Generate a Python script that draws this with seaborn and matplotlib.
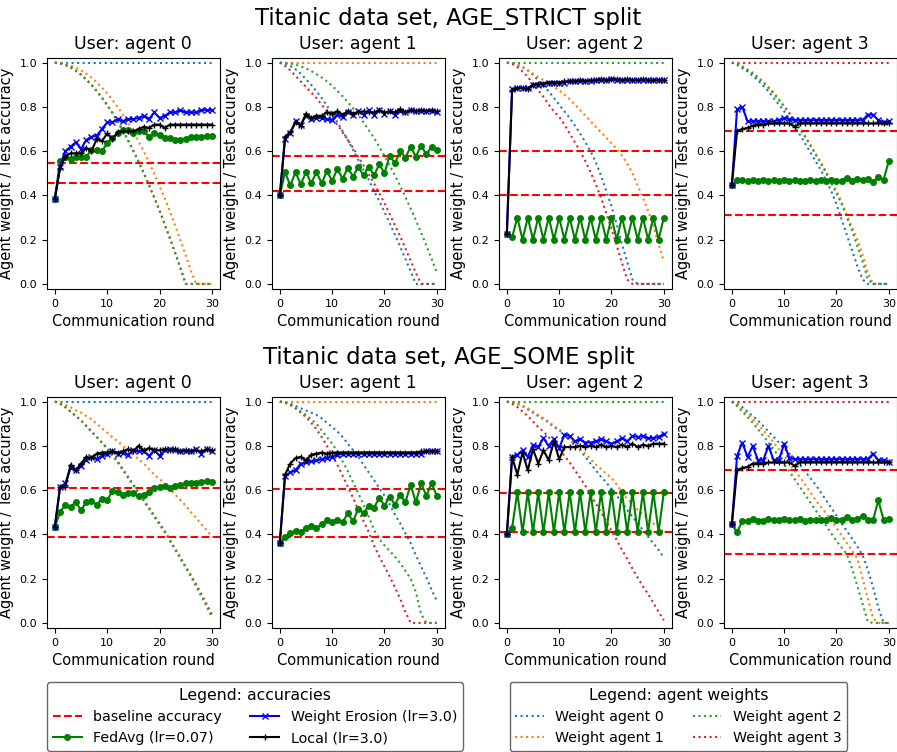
import matplotlib
matplotlib.use("Agg")
import matplotlib.pyplot as plt
import seaborn as sns

# Titanic federated learning results, rounds 0..30
rounds = list(range(31))
agents = [0, 1, 2, 3]
split_names = ["AGE_STRICT", "AGE_SOME"]

full_weight = [1.0, 1.0, 1.0, 1.0, 1.0, 1.0, 1.0, 1.0, 1.0, 1.0, 1.0, 1.0, 1.0, 1.0, 1.0, 1.0,
               1.0, 1.0, 1.0, 1.0, 1.0, 1.0, 1.0, 1.0, 1.0, 1.0, 1.0, 1.0, 1.0, 1.0, 1.0]

# ---- AGE_STRICT, user agent 0
s0_base = [0.545, 0.455]
s0_w1 = [1.0, 0.999, 0.994, 0.987, 0.978, 0.965, 0.950, 0.932, 0.911, 0.887, 0.861, 0.832, 0.800, 0.765, 0.727, 0.687,
         0.644, 0.598, 0.549, 0.497, 0.443, 0.386, 0.326, 0.263, 0.198, 0.130, 0.059, 0.0, 0.0, 0.0, 0.0]
s0_w2 = [1.0, 0.997, 0.989, 0.978, 0.963, 0.945, 0.923, 0.899, 0.871, 0.841, 0.808, 0.772, 0.733, 0.692, 0.648, 0.601,
         0.552, 0.500, 0.446, 0.390, 0.331, 0.269, 0.205, 0.139, 0.071, 0.0, 0.0, 0.0, 0.0, 0.0, 0.0]
s0_w3 = [1.0, 0.997, 0.990, 0.979, 0.964, 0.946, 0.924, 0.900, 0.872, 0.842, 0.809, 0.773, 0.734, 0.693, 0.649, 0.602,
         0.553, 0.501, 0.447, 0.391, 0.332, 0.270, 0.206, 0.140, 0.072, 0.0, 0.0, 0.0, 0.0, 0.0, 0.0]
s0_fedavg = [0.385, 0.555, 0.575, 0.565, 0.575, 0.575, 0.575, 0.605, 0.605, 0.60, 0.635, 0.66, 0.68, 0.695, 0.695, 0.68,
             0.69, 0.69, 0.665, 0.68, 0.675, 0.66, 0.66, 0.65, 0.65, 0.655, 0.665, 0.665, 0.665, 0.67, 0.67]
s0_we = [0.385, 0.53, 0.60, 0.62, 0.64, 0.61, 0.65, 0.665, 0.67, 0.70, 0.73, 0.73, 0.745, 0.735, 0.745, 0.745,
         0.75, 0.76, 0.745, 0.775, 0.75, 0.76, 0.775, 0.775, 0.785, 0.775, 0.775, 0.775, 0.785, 0.785, 0.785]
s0_local = [0.385, 0.525, 0.575, 0.59, 0.59, 0.59, 0.615, 0.60, 0.655, 0.645, 0.68, 0.655, 0.685, 0.69, 0.69, 0.69,
            0.70, 0.71, 0.705, 0.72, 0.72, 0.705, 0.72, 0.72, 0.72, 0.72, 0.72, 0.72, 0.72, 0.72, 0.72]

# ---- AGE_STRICT, user agent 1
s1_base = [0.578, 0.422]
s1_w0 = [1.0, 0.995, 0.985, 0.97, 0.95, 0.925, 0.90, 0.87, 0.84, 0.805, 0.77, 0.73, 0.69, 0.65, 0.605, 0.56,
         0.515, 0.47, 0.42, 0.375, 0.325, 0.274, 0.222, 0.168, 0.113, 0.057, 0.0, 0.0, 0.0, 0.0, 0.0]
s1_w2 = [1.0, 0.999, 0.996, 0.991, 0.983, 0.974, 0.962, 0.948, 0.933, 0.915, 0.895, 0.872, 0.848, 0.822, 0.793, 0.763,
         0.730, 0.695, 0.659, 0.620, 0.579, 0.535, 0.490, 0.443, 0.393, 0.341, 0.288, 0.232, 0.174, 0.114, 0.052]
s1_w3 = [1.0, 0.985, 0.965, 0.94, 0.915, 0.89, 0.865, 0.84, 0.81, 0.78, 0.75, 0.72, 0.685, 0.65, 0.615, 0.575,
         0.535, 0.495, 0.455, 0.41, 0.365, 0.315, 0.265, 0.215, 0.16, 0.105, 0.05, 0.0, 0.0, 0.0, 0.0]
s1_fedavg = [0.40, 0.505, 0.445, 0.505, 0.45, 0.505, 0.455, 0.505, 0.455, 0.51, 0.465, 0.52, 0.475, 0.525, 0.485, 0.53,
             0.49, 0.53, 0.49, 0.54, 0.50, 0.58, 0.545, 0.60, 0.57, 0.62, 0.575, 0.625, 0.585, 0.62, 0.605]
s1_we = [0.40, 0.655, 0.68, 0.735, 0.72, 0.76, 0.745, 0.75, 0.75, 0.745, 0.74, 0.765, 0.755, 0.775, 0.765, 0.78,
         0.765, 0.785, 0.765, 0.785, 0.77, 0.78, 0.765, 0.78, 0.775, 0.785, 0.78, 0.78, 0.78, 0.78, 0.775]
s1_local = [0.40, 0.665, 0.685, 0.73, 0.715, 0.77, 0.75, 0.76, 0.76, 0.775, 0.77, 0.78, 0.765, 0.78, 0.77, 0.775,
            0.78, 0.775, 0.775, 0.785, 0.775, 0.78, 0.775, 0.79, 0.775, 0.785, 0.78, 0.785, 0.78, 0.785, 0.78]

# ---- AGE_STRICT, user agent 2
s2_base = [0.60, 0.40]
s2_w0 = [1.0, 0.997, 0.99, 0.98, 0.965, 0.945, 0.92, 0.895, 0.87, 0.84, 0.81, 0.78, 0.75, 0.715, 0.68, 0.64,
         0.60, 0.55, 0.49, 0.42, 0.35, 0.27, 0.18, 0.10, 0.02, 0.0, 0.0, 0.0, 0.0, 0.0, 0.0]
s2_w1 = [1.0, 0.998, 0.99, 0.98, 0.965, 0.95, 0.935, 0.92, 0.905, 0.89, 0.875, 0.855, 0.835, 0.81, 0.785, 0.76,
         0.735, 0.71, 0.685, 0.66, 0.635, 0.61, 0.58, 0.545, 0.50, 0.445, 0.39, 0.33, 0.26, 0.18, 0.10]
s2_w3 = [1.0, 0.995, 0.98, 0.96, 0.935, 0.905, 0.875, 0.845, 0.81, 0.78, 0.755, 0.72, 0.68, 0.64, 0.60, 0.555,
         0.505, 0.45, 0.39, 0.32, 0.25, 0.175, 0.095, 0.02, 0.0, 0.0, 0.0, 0.0, 0.0, 0.0, 0.0]
s2_fedavg = [0.225, 0.21, 0.30, 0.20, 0.30, 0.20, 0.30, 0.20, 0.30, 0.20, 0.30, 0.20, 0.30, 0.20, 0.30, 0.20,
             0.30, 0.20, 0.30, 0.20, 0.30, 0.20, 0.30, 0.20, 0.30, 0.20, 0.30, 0.20, 0.30, 0.20, 0.30]
s2_we = [0.225, 0.88, 0.885, 0.885, 0.885, 0.90, 0.90, 0.905, 0.91, 0.91, 0.91, 0.91, 0.915, 0.915, 0.915, 0.915,
         0.915, 0.92, 0.92, 0.92, 0.925, 0.92, 0.92, 0.92, 0.92, 0.92, 0.92, 0.92, 0.92, 0.92, 0.92]
s2_local = [0.225, 0.875, 0.885, 0.885, 0.88, 0.90, 0.905, 0.905, 0.91, 0.91, 0.91, 0.915, 0.915, 0.915, 0.92, 0.915,
            0.92, 0.92, 0.925, 0.92, 0.925, 0.925, 0.92, 0.925, 0.92, 0.92, 0.925, 0.92, 0.92, 0.92, 0.92]

# ---- AGE_STRICT, user agent 3
s3_base = [0.69, 0.31]
s3_w0 = [1.0, 0.99, 0.975, 0.96, 0.94, 0.92, 0.895, 0.87, 0.84, 0.81, 0.78, 0.745, 0.71, 0.675, 0.635, 0.595,
         0.555, 0.515, 0.47, 0.42, 0.36, 0.29, 0.22, 0.15, 0.08, 0.02, 0.0, 0.0, 0.0, 0.0, 0.0]
s3_w1 = [1.0, 0.995, 0.985, 0.97, 0.955, 0.935, 0.915, 0.89, 0.865, 0.835, 0.805, 0.775, 0.74, 0.705, 0.67, 0.63,
         0.59, 0.55, 0.51, 0.465, 0.42, 0.37, 0.31, 0.255, 0.20, 0.13, 0.05, 0.0, 0.0, 0.0, 0.0]
s3_w2 = [1.0, 0.995, 0.98, 0.965, 0.95, 0.93, 0.91, 0.885, 0.86, 0.83, 0.80, 0.77, 0.735, 0.70, 0.665, 0.625,
         0.585, 0.545, 0.50, 0.455, 0.41, 0.36, 0.30, 0.24, 0.17, 0.10, 0.02, 0.0, 0.0, 0.0, 0.0]
s3_fedavg = [0.445, 0.47, 0.47, 0.465, 0.47, 0.465, 0.47, 0.465, 0.47, 0.465, 0.47, 0.465, 0.47, 0.465, 0.465, 0.47,
             0.465, 0.47, 0.465, 0.47, 0.465, 0.465, 0.48, 0.465, 0.475, 0.47, 0.475, 0.46, 0.485, 0.47, 0.555]
s3_we = [0.445, 0.79, 0.80, 0.735, 0.735, 0.735, 0.735, 0.735, 0.735, 0.74, 0.75, 0.745, 0.74, 0.74, 0.74, 0.74,
         0.74, 0.74, 0.74, 0.74, 0.74, 0.74, 0.74, 0.74, 0.74, 0.74, 0.765, 0.765, 0.74, 0.73, 0.735]
s3_local = [0.445, 0.69, 0.70, 0.705, 0.715, 0.72, 0.72, 0.725, 0.725, 0.725, 0.725, 0.725, 0.71, 0.725, 0.725, 0.725,
            0.725, 0.725, 0.725, 0.725, 0.725, 0.725, 0.725, 0.725, 0.725, 0.725, 0.725, 0.725, 0.725, 0.725, 0.725]

# ---- AGE_SOME, user agent 0
m0_base = [0.61, 0.39]
m0_w1 = [1.0, 0.995, 0.985, 0.975, 0.96, 0.95, 0.935, 0.92, 0.90, 0.88, 0.86, 0.84, 0.82, 0.80, 0.78, 0.76,
         0.74, 0.72, 0.695, 0.67, 0.65, 0.63, 0.605, 0.58, 0.555, 0.53, 0.50, 0.475, 0.445, 0.42, 0.39]
m0_w2 = [1.0, 0.99, 0.975, 0.955, 0.935, 0.915, 0.89, 0.865, 0.84, 0.815, 0.785, 0.755, 0.725, 0.69, 0.655, 0.62,
         0.585, 0.55, 0.515, 0.48, 0.445, 0.41, 0.37, 0.33, 0.29, 0.25, 0.21, 0.165, 0.12, 0.075, 0.025]
m0_w3 = [1.0, 0.99, 0.975, 0.955, 0.935, 0.915, 0.89, 0.865, 0.84, 0.815, 0.79, 0.76, 0.73, 0.695, 0.66, 0.625,
         0.59, 0.555, 0.52, 0.485, 0.45, 0.415, 0.375, 0.335, 0.295, 0.255, 0.215, 0.175, 0.13, 0.085, 0.04]
m0_fedavg = [0.435, 0.50, 0.535, 0.525, 0.545, 0.51, 0.545, 0.55, 0.535, 0.56, 0.555, 0.595, 0.59, 0.58, 0.585, 0.585,
             0.575, 0.58, 0.59, 0.61, 0.615, 0.62, 0.61, 0.62, 0.625, 0.63, 0.63, 0.63, 0.635, 0.64, 0.635]
m0_we = [0.435, 0.615, 0.63, 0.70, 0.69, 0.71, 0.735, 0.75, 0.74, 0.755, 0.765, 0.775, 0.765, 0.77, 0.76, 0.78,
         0.775, 0.775, 0.755, 0.78, 0.755, 0.78, 0.785, 0.78, 0.775, 0.775, 0.775, 0.785, 0.765, 0.785, 0.775]
m0_local = [0.435, 0.615, 0.615, 0.715, 0.69, 0.72, 0.75, 0.745, 0.765, 0.77, 0.77, 0.775, 0.77, 0.775, 0.785, 0.775,
            0.80, 0.78, 0.79, 0.78, 0.78, 0.785, 0.78, 0.785, 0.775, 0.78, 0.775, 0.78, 0.775, 0.785, 0.78]

# ---- AGE_SOME, user agent 1
m1_base = [0.607, 0.389]
m1_w0 = [1.0, 0.998, 0.99, 0.98, 0.97, 0.96, 0.95, 0.94, 0.925, 0.905, 0.885, 0.865, 0.84, 0.81, 0.78, 0.75,
         0.715, 0.68, 0.645, 0.61, 0.575, 0.535, 0.49, 0.45, 0.405, 0.36, 0.305, 0.255, 0.205, 0.15, 0.10]
m1_w2 = [1.0, 0.995, 0.985, 0.97, 0.955, 0.94, 0.92, 0.90, 0.87, 0.84, 0.81, 0.775, 0.73, 0.685, 0.635, 0.585,
         0.535, 0.48, 0.42, 0.38, 0.35, 0.325, 0.30, 0.27, 0.235, 0.20, 0.14, 0.04, 0.0, 0.0, 0.0]
m1_w3 = [1.0, 0.995, 0.985, 0.97, 0.95, 0.93, 0.905, 0.875, 0.84, 0.80, 0.755, 0.715, 0.665, 0.615, 0.565, 0.51,
         0.46, 0.41, 0.35, 0.30, 0.255, 0.21, 0.16, 0.11, 0.05, 0.0, 0.0, 0.0, 0.0, 0.0, 0.0]
m1_fedavg = [0.363, 0.39, 0.405, 0.415, 0.41, 0.43, 0.44, 0.43, 0.445, 0.465, 0.455, 0.465, 0.455, 0.495, 0.46, 0.515,
             0.495, 0.53, 0.52, 0.565, 0.53, 0.57, 0.535, 0.58, 0.545, 0.625, 0.545, 0.63, 0.575, 0.63, 0.575]
m1_we = [0.363, 0.665, 0.68, 0.69, 0.72, 0.725, 0.73, 0.735, 0.74, 0.745, 0.75, 0.76, 0.765, 0.765, 0.765, 0.765,
         0.765, 0.765, 0.765, 0.765, 0.765, 0.765, 0.765, 0.765, 0.765, 0.765, 0.765, 0.765, 0.775, 0.775, 0.775]
m1_local = [0.363, 0.67, 0.72, 0.745, 0.75, 0.735, 0.76, 0.765, 0.77, 0.765, 0.77, 0.77, 0.77, 0.77, 0.77, 0.77,
            0.77, 0.77, 0.77, 0.77, 0.77, 0.77, 0.77, 0.77, 0.77, 0.77, 0.77, 0.775, 0.775, 0.775, 0.775]

# ---- AGE_SOME, user agent 2
m2_base = [0.587, 0.413]
m2_w0 = [1.0, 0.998, 0.99, 0.98, 0.965, 0.95, 0.935, 0.92, 0.905, 0.885, 0.87, 0.855, 0.83, 0.805, 0.78, 0.75,
         0.72, 0.69, 0.66, 0.635, 0.605, 0.575, 0.545, 0.51, 0.48, 0.45, 0.42, 0.39, 0.36, 0.33, 0.295]
m2_w1 = [1.0, 0.998, 0.99, 0.98, 0.97, 0.955, 0.94, 0.925, 0.91, 0.89, 0.875, 0.855, 0.835, 0.81, 0.785, 0.765,
         0.74, 0.715, 0.695, 0.675, 0.655, 0.625, 0.59, 0.56, 0.54, 0.51, 0.49, 0.47, 0.45, 0.43, 0.41]
m2_w3 = [1.0, 0.99, 0.975, 0.955, 0.935, 0.91, 0.885, 0.865, 0.84, 0.81, 0.785, 0.755, 0.725, 0.69, 0.655, 0.62,
         0.58, 0.54, 0.50, 0.46, 0.415, 0.375, 0.33, 0.29, 0.245, 0.205, 0.165, 0.13, 0.09, 0.05, 0.012]
m2_fedavg = [0.40, 0.43, 0.59, 0.41, 0.59, 0.41, 0.59, 0.41, 0.59, 0.41, 0.59, 0.41, 0.59, 0.41, 0.59, 0.41,
             0.59, 0.41, 0.59, 0.41, 0.59, 0.41, 0.59, 0.41, 0.59, 0.41, 0.59, 0.41, 0.59, 0.41, 0.59]
m2_we = [0.40, 0.75, 0.76, 0.78, 0.75, 0.805, 0.795, 0.835, 0.80, 0.83, 0.79, 0.85, 0.845, 0.82, 0.83, 0.815,
         0.815, 0.82, 0.83, 0.82, 0.81, 0.82, 0.835, 0.82, 0.845, 0.84, 0.845, 0.835, 0.835, 0.84, 0.855]
m2_local = [0.40, 0.75, 0.67, 0.77, 0.69, 0.785, 0.72, 0.78, 0.735, 0.82, 0.74, 0.795, 0.795, 0.795, 0.80, 0.795,
            0.80, 0.795, 0.805, 0.795, 0.80, 0.795, 0.805, 0.795, 0.81, 0.795, 0.805, 0.80, 0.81, 0.81, 0.81]

# ---- AGE_SOME, user agent 3
m3_base = [0.69, 0.31]
m3_w0 = [1.0, 0.99, 0.975, 0.955, 0.935, 0.915, 0.89, 0.865, 0.84, 0.815, 0.79, 0.765, 0.74, 0.715, 0.685, 0.655,
         0.625, 0.59, 0.555, 0.52, 0.485, 0.45, 0.415, 0.38, 0.345, 0.305, 0.24, 0.16, 0.07, 0.0, 0.0]
m3_w1 = [1.0, 0.985, 0.965, 0.945, 0.92, 0.895, 0.87, 0.845, 0.815, 0.785, 0.755, 0.72, 0.69, 0.66, 0.625, 0.59,
         0.555, 0.525, 0.495, 0.46, 0.43, 0.395, 0.36, 0.325, 0.29, 0.20, 0.11, 0.02, 0.0, 0.0, 0.0]
m3_w2 = [1.0, 0.98, 0.955, 0.93, 0.905, 0.875, 0.845, 0.815, 0.785, 0.75, 0.715, 0.685, 0.65, 0.615, 0.58, 0.545,
         0.51, 0.475, 0.44, 0.405, 0.37, 0.34, 0.31, 0.245, 0.165, 0.085, 0.005, 0.0, 0.0, 0.0, 0.0]
m3_fedavg = [0.445, 0.41, 0.46, 0.46, 0.47, 0.46, 0.46, 0.47, 0.465, 0.465, 0.47, 0.465, 0.465, 0.47, 0.46, 0.465,
             0.465, 0.465, 0.465, 0.475, 0.465, 0.465, 0.48, 0.465, 0.47, 0.485, 0.465, 0.465, 0.555, 0.465, 0.47]
m3_we = [0.445, 0.755, 0.815, 0.75, 0.80, 0.735, 0.735, 0.80, 0.735, 0.735, 0.81, 0.745, 0.74, 0.74, 0.74, 0.74,
         0.74, 0.74, 0.74, 0.74, 0.74, 0.74, 0.74, 0.74, 0.74, 0.74, 0.74, 0.765, 0.735, 0.735, 0.725]
m3_local = [0.445, 0.69, 0.70, 0.705, 0.72, 0.72, 0.72, 0.725, 0.725, 0.725, 0.725, 0.725, 0.71, 0.725, 0.725, 0.725,
            0.725, 0.725, 0.725, 0.725, 0.725, 0.725, 0.725, 0.725, 0.725, 0.725, 0.725, 0.725, 0.725, 0.725, 0.725]

# collect per split / per user
splits = [
    [
        dict(w=[full_weight, s0_w1, s0_w2, s0_w3], fedavg=s0_fedavg, we=s0_we, local=s0_local, base=s0_base),
        dict(w=[s1_w0, full_weight, s1_w2, s1_w3], fedavg=s1_fedavg, we=s1_we, local=s1_local, base=s1_base),
        dict(w=[s2_w0, s2_w1, full_weight, s2_w3], fedavg=s2_fedavg, we=s2_we, local=s2_local, base=s2_base),
        dict(w=[s3_w0, s3_w1, s3_w2, full_weight], fedavg=s3_fedavg, we=s3_we, local=s3_local, base=s3_base),
    ],
    [
        dict(w=[full_weight, m0_w1, m0_w2, m0_w3], fedavg=m0_fedavg, we=m0_we, local=m0_local, base=m0_base),
        dict(w=[m1_w0, full_weight, m1_w2, m1_w3], fedavg=m1_fedavg, we=m1_we, local=m1_local, base=m1_base),
        dict(w=[m2_w0, m2_w1, full_weight, m2_w3], fedavg=m2_fedavg, we=m2_we, local=m2_local, base=m2_base),
        dict(w=[m3_w0, m3_w1, m3_w2, full_weight], fedavg=m3_fedavg, we=m3_we, local=m3_local, base=m3_base),
    ],
]

weight_colors = ["tab:blue", "tab:orange", "tab:green", "tab:red"]

fig = plt.figure(figsize=(8.97, 7.52), dpi=100)
lefts = [0.0524, 0.3032, 0.5563, 0.8071]
bottoms = [0.6157, 0.1649]
title_y = [0.976, 0.524]

for r, split in enumerate(splits):
    fig.text(0.5, title_y[r], "Titanic data set, %s split" % split_names[r],
             ha="center", va="center", fontsize=16.5)
    for a in agents:
        p = split[a]
        ax = fig.add_axes([lefts[a], bottoms[r], 0.1925, 0.3078])

        # agent weights (dotted)
        for k in [0, 1, 3, 2]:
            sns.lineplot(x=rounds, y=p["w"][k], ax=ax, color=weight_colors[k], linestyle=":",
                         linewidth=1.5, errorbar=None, legend=False, label="Weight agent %d" % k)

        # baseline accuracies
        for b in p["base"]:
            ax.axhline(b, color="red", linestyle="--", linewidth=1.5, label="baseline accuracy")

        sns.lineplot(x=rounds, y=p["fedavg"], ax=ax, color="green", marker="o", markersize=4,
                     markeredgecolor="green", markeredgewidth=1, linewidth=1.5,
                     errorbar=None, legend=False, label="FedAvg (lr=0.07)")
        sns.lineplot(x=rounds, y=p["we"], ax=ax, color="blue", marker="x", markersize=4,
                     markeredgecolor="blue", markeredgewidth=1, linewidth=1.5,
                     errorbar=None, legend=False, label="Weight Erosion (lr=3.0)")
        sns.lineplot(x=rounds, y=p["local"], ax=ax, color="black", marker="+", markersize=4,
                     markeredgecolor="black", markeredgewidth=1, linewidth=1.5,
                     errorbar=None, legend=False, label="Local (lr=3.0)")

        ax.set_xlim(-1.5, 31.5)
        ax.set_ylim(-0.023, 1.023)
        ax.set_xticks([0, 10, 20, 30])
        ax.set_yticks([0.0, 0.2, 0.4, 0.6, 0.8, 1.0])
        ax.tick_params(labelsize=8)
        ax.set_title("User: agent %d" % a, fontsize=12.5)
        ax.set_xlabel("Communication round", fontsize=10.5)
        ax.set_ylabel("Agent weight / Test accuracy", fontsize=10.5)

# legends from the first panel's lines
handles, labels = fig.axes[0].get_legend_handles_labels()
by_label = {}
for h, l in zip(handles, labels):
    by_label.setdefault(l, h)

acc_labels = ["baseline accuracy", "FedAvg (lr=0.07)", "Weight Erosion (lr=3.0)", "Local (lr=3.0)"]
w_labels = ["Weight agent 0", "Weight agent 1", "Weight agent 2", "Weight agent 3"]

leg1 = fig.legend([by_label[l] for l in acc_labels], acc_labels, loc="upper center",
                  bbox_to_anchor=(0.2843, 0.093), ncol=2, title="Legend: accuracies",
                  fontsize=10.3, title_fontsize=11.3, borderaxespad=0, edgecolor="0.25")
leg2 = fig.legend([by_label[l] for l in w_labels], w_labels, loc="upper center",
                  bbox_to_anchor=(0.7564, 0.093), ncol=2, title="Legend: agent weights",
                  fontsize=10.3, title_fontsize=11.3, borderaxespad=0, edgecolor="0.25")

fig.savefig("out.png", dpi=100)
